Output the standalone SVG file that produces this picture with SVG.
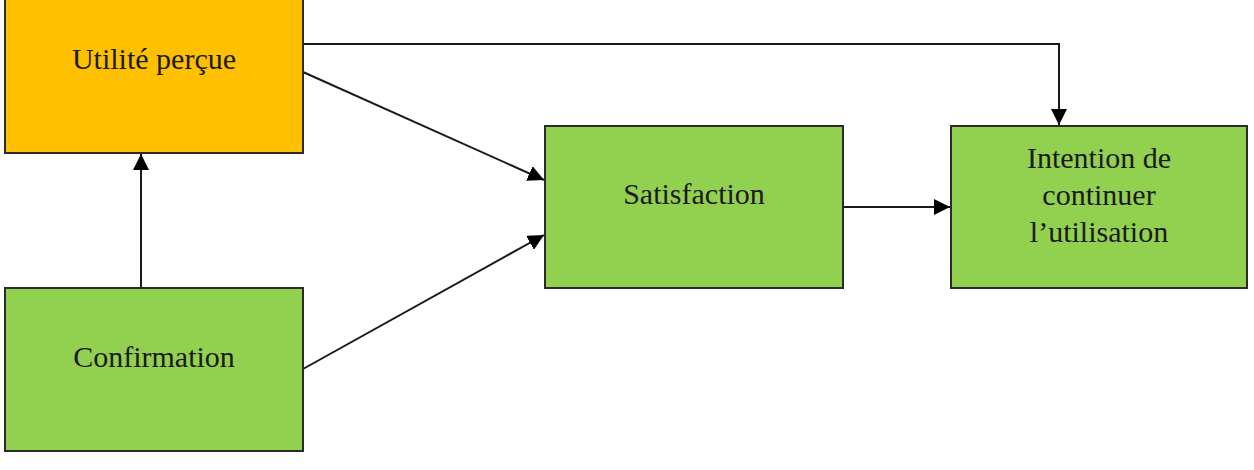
<svg xmlns="http://www.w3.org/2000/svg" width="1254" height="470" viewBox="0 0 1254 470">
<style>
.box{stroke:#2b2b2b;stroke-width:2}
.orange{fill:#FFC000}
.green{fill:#92D050}
.lbl{font-family:"Liberation Serif",serif;font-size:30px;fill:#1a1a1a;text-anchor:middle}
.con{fill:none;stroke:#1a1a1a;stroke-width:2;marker-end:url(#arr)}
</style>
<defs>
<marker id="arr" viewBox="0 0 10 10" refX="10" refY="5" markerWidth="8" markerHeight="8" markerUnits="strokeWidth" orient="auto">
<path d="M0,0 L10,5 L0,10 z" fill="#000"/>
</marker>
</defs>
<g id="connectors">
<path class="con" d="M303,44 H1059 V125"/>
<path class="con" d="M303,72 L544,180"/>
<path class="con" d="M303,369 L544,235"/>
<path class="con" d="M141,288 V154"/>
<path class="con" d="M843,207 H950"/>
</g>
<g id="utilite">
<rect class="box orange" x="5" y="-2" width="298" height="155"/>
<text class="lbl" x="154" y="69">Utilité perçue</text>
</g>
<g id="confirmation">
<rect class="box green" x="5" y="288" width="298" height="163"/>
<text class="lbl" x="154" y="367">Confirmation</text>
</g>
<g id="satisfaction">
<rect class="box green" x="545" y="126" width="298" height="162"/>
<text class="lbl" x="694" y="204">Satisfaction</text>
</g>
<g id="intention">
<rect class="box green" x="951" y="126" width="296" height="162"/>
<text class="lbl" x="1099" y="168">Intention de</text>
<text class="lbl" x="1099" y="205">continuer</text>
<text class="lbl" x="1099" y="242">l’utilisation</text>
</g>
</svg>
